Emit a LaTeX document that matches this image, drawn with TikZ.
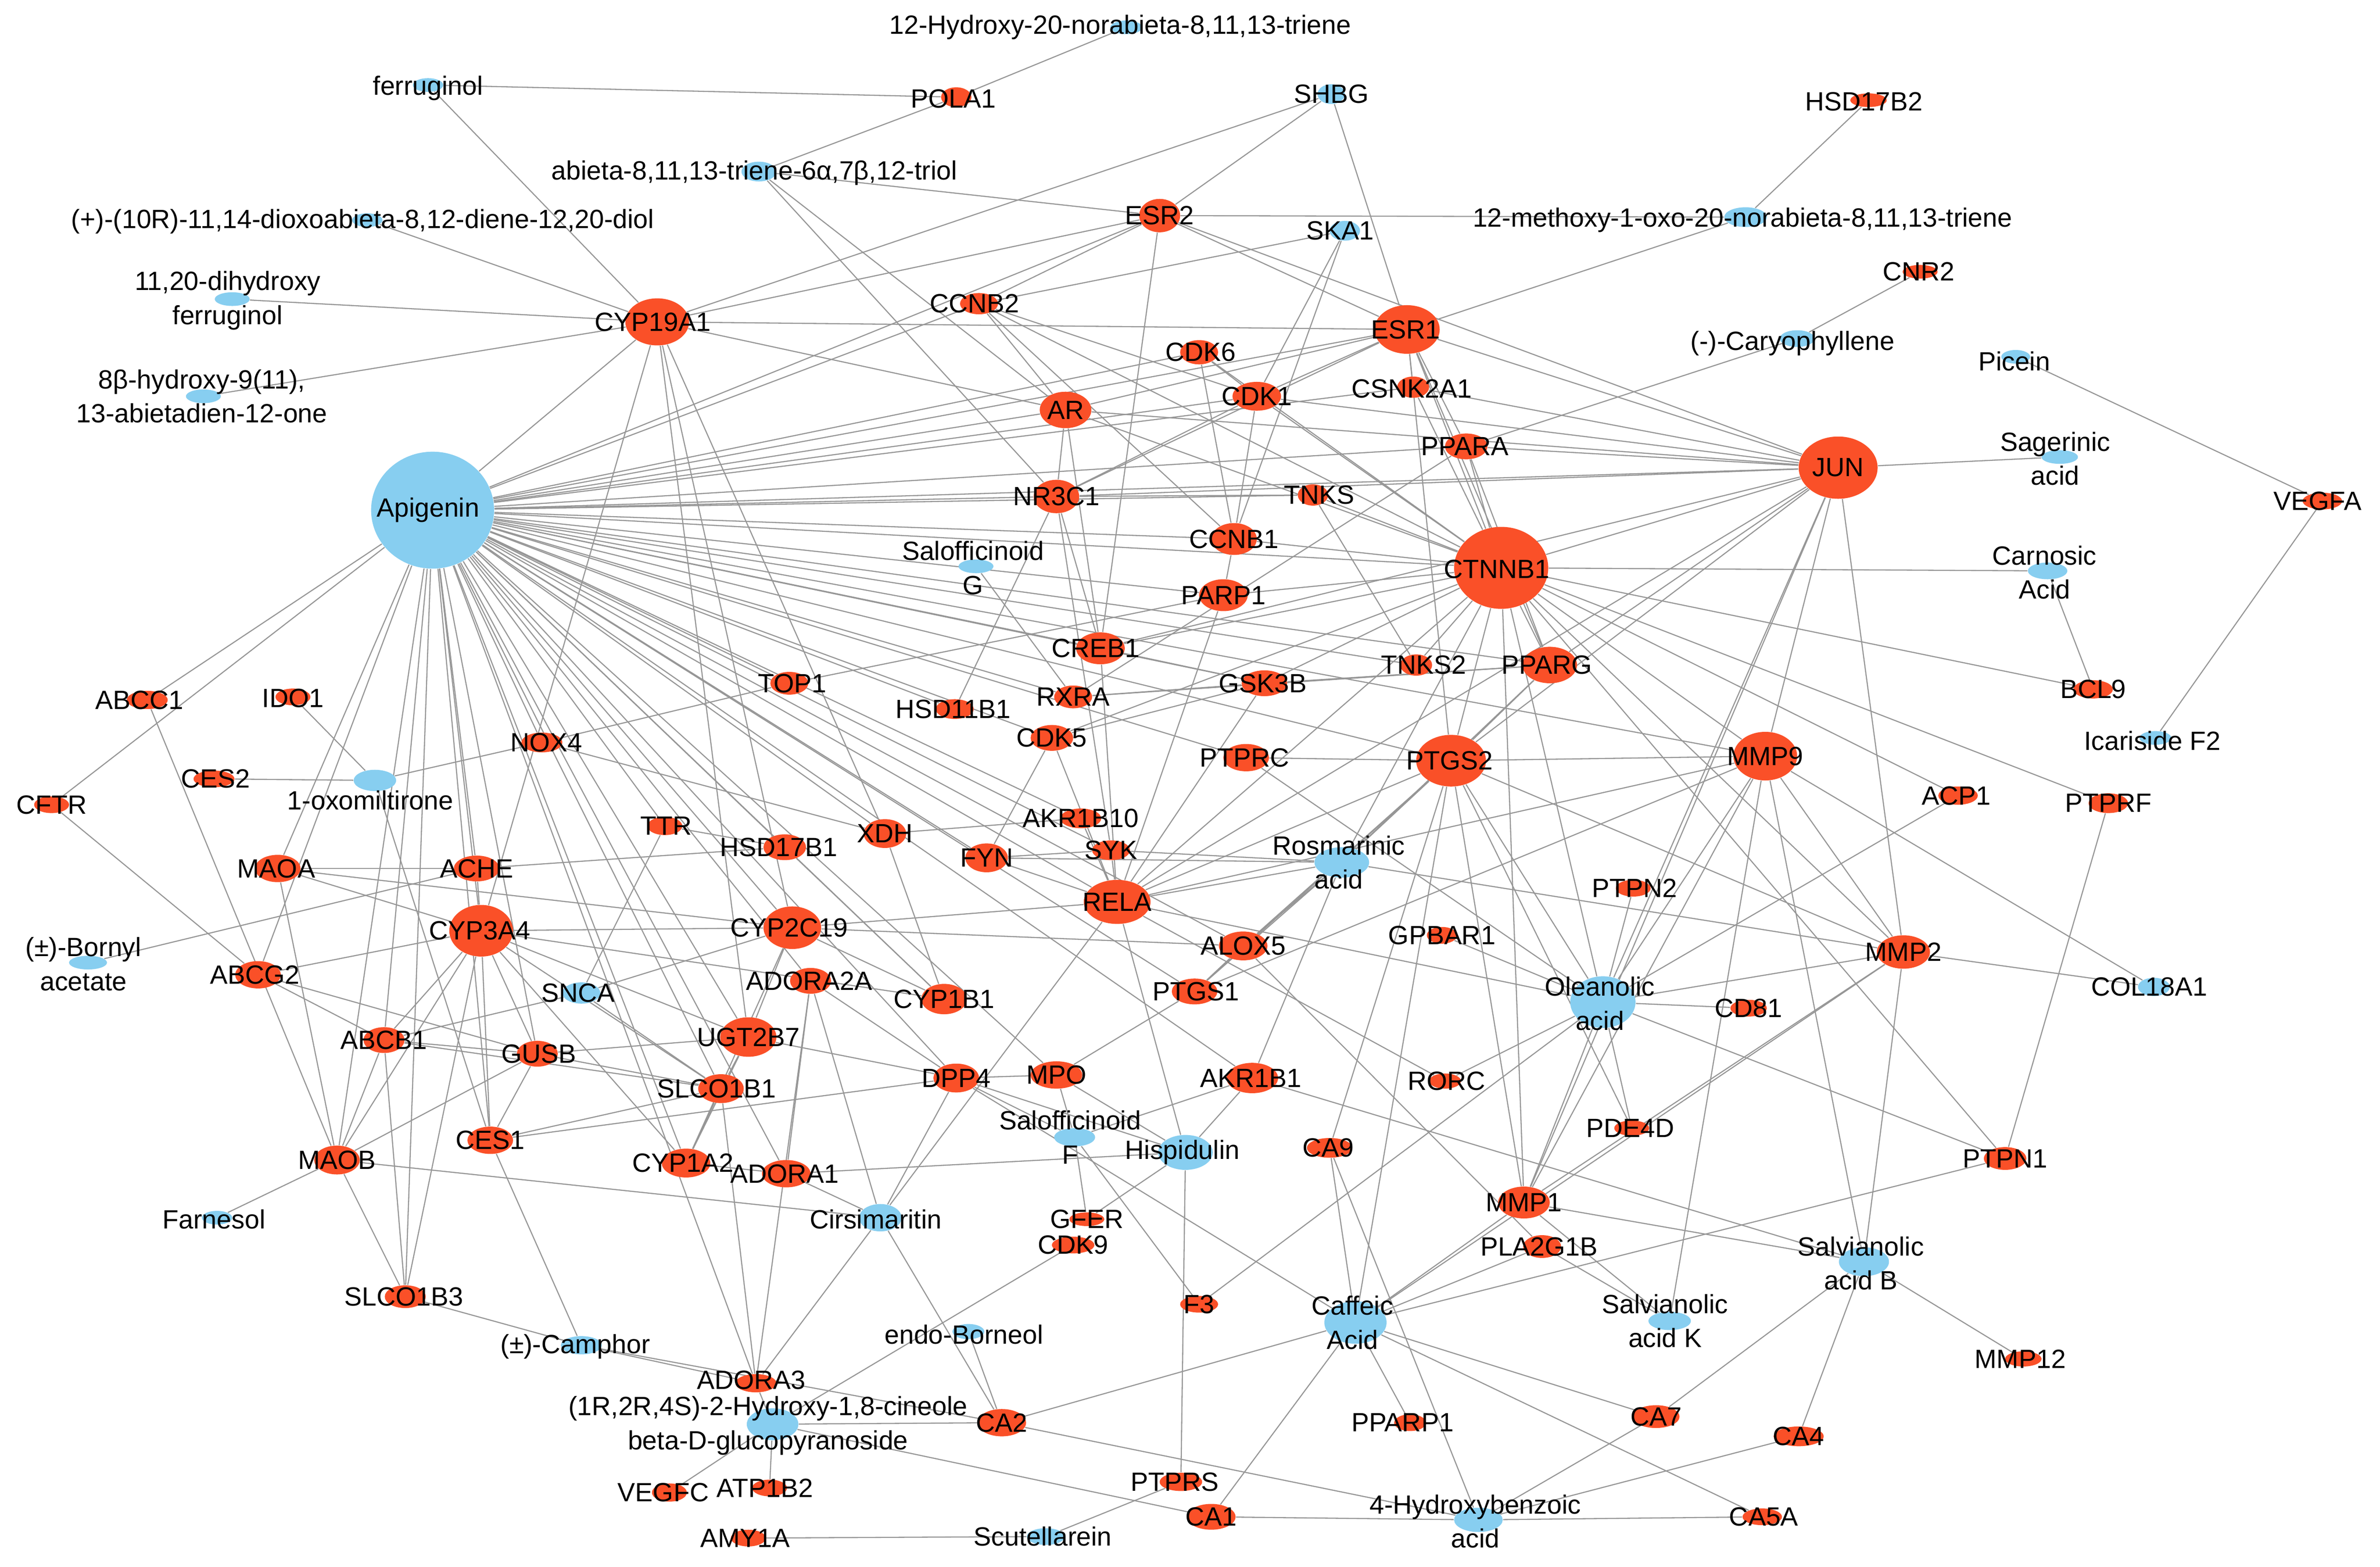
\documentclass[tikz,border=0pt]{standalone}
\usepackage{fontspec}
\setmainfont{Liberation Sans}
\usetikzlibrary{shapes.geometric}
\definecolor{cpdblue}{RGB}{135,206,240}
\definecolor{tgtred}{RGB}{250,80,40}
\definecolor{linkgray}{RGB}{150,150,150}
\pgfdeclarelayer{bg}
\pgfsetlayers{bg,main}
\tikzset{
  sz/.style 2 args={minimum width=#1*0.69pt, minimum height=#2*0.69pt},
  cpd/.style={ellipse, fill=cpdblue, inner sep=0pt},
  tgt/.style={ellipse, fill=tgtred, inner sep=0pt},
  lbl/.style={font=\fontsize{12}{15.5}\selectfont, inner sep=0pt, align=center},
  link/.style={draw=linkgray, line width=0.5pt}
}
\begin{document}
\begin{tikzpicture}[x=0.69pt, y=-0.69pt]
   \useasboundingbox (0,0) rectangle (1568,1032);
   \node[cpd, sz={21}{9}]  (h12)     at ( 742,  18) {};
   \node[cpd, sz={20}{9}]  (ferr)    at ( 282,  56) {};
   \node[cpd, sz={23}{13}] (triol)   at ( 500, 113) {};
   \node[cpd, sz={20}{9}]  (diol)    at ( 242, 145) {};
   \node[cpd, sz={18}{13}] (shbg)    at ( 877,  62) {};
   \node[cpd, sz={20}{13}] (ska)     at ( 886, 152) {};
   \node[cpd, sz={28}{13}] (meth)    at (1150, 143) {};
   \node[cpd, sz={23}{9}]  (dihyd)   at ( 153, 197) {};
   \node[cpd, sz={23}{9}]  (hyd8)    at ( 134, 261) {};
   \node[cpd, sz={23}{11}] (caryo)   at (1184, 223) {};
   \node[cpd, sz={19}{9}]  (picein)  at (1328, 235) {};
   \node[cpd, sz={24}{9}]  (sager)   at (1357, 301) {};
   \node[cpd, sz={81}{77}] (api)     at ( 285, 336) {};
   \node[cpd, sz={23}{9}]  (salg)    at ( 643, 373) {};
   \node[cpd, sz={26}{11}] (carn)    at (1349, 376) {};
   \node[cpd, sz={21}{9}]  (icar)    at (1420, 486) {};
   \node[cpd, sz={28}{14}] (oxo)     at ( 247, 514) {};
   \node[cpd, sz={36}{20}] (rosm)    at ( 884, 568) {};
   \node[cpd, sz={25}{9}]  (bornyl)  at (  58, 634) {};
   \node[cpd, sz={25}{14}] (snca)    at ( 383, 654) {};
   \node[cpd, sz={21}{12}] (col)     at (1419, 650) {};
   \node[cpd, sz={43}{34}] (olea)    at (1056, 660) {};
   \node[cpd, sz={27}{12}] (salf)    at ( 708, 749) {};
   \node[cpd, sz={36}{23}] (hisp)    at ( 781, 759) {};
   \node[cpd, sz={20}{9}]  (farn)    at ( 143, 802) {};
   \node[cpd, sz={28}{18}] (cirs)    at ( 580, 802) {};
   \node[cpd, sz={41}{28}] (caff)    at ( 893, 871) {};
   \node[cpd, sz={33}{19}] (salvb)   at (1228, 831) {};
   \node[cpd, sz={28}{12}] (salvk)   at (1100, 870) {};
   \node[cpd, sz={21}{10}] (born)    at ( 638, 877) {};
   \node[cpd, sz={27}{12}] (camph)   at ( 383, 886) {};
   \node[cpd, sz={34}{21}] (gluc)    at ( 509, 938) {};
   \node[cpd, sz={32}{16}] (hb4)     at ( 974,1001) {};
   \node[cpd, sz={25}{11}] (scut)    at ( 689,1012) {};
   \node[tgt, sz={20}{13}] (pola1)   at ( 630,  64) {};
   \node[tgt, sz={24}{9}]  (hsd17b2) at (1231,  66) {};
   \node[tgt, sz={27}{22}] (esr2)    at ( 764, 142) {};
   \node[tgt, sz={42}{31}] (cyp19a1) at ( 433, 212) {};
   \node[tgt, sz={25}{14}] (ccnb2)   at ( 645, 200) {};
   \node[tgt, sz={43}{32}] (esr1)    at ( 927, 217) {};
   \node[tgt, sz={23}{9}]  (cnr2)    at (1265, 179) {};
   \node[tgt, sz={25}{16}] (cdk6)    at ( 790, 232) {};
   \node[tgt, sz={32}{19}] (cdk1)    at ( 828, 261) {};
   \node[tgt, sz={21}{14}] (csnk)    at ( 931, 255) {};
   \node[tgt, sz={34}{24}] (ar)      at ( 702, 270) {};
   \node[tgt, sz={28}{17}] (ppara)   at ( 966, 294) {};
   \node[tgt, sz={52}{41}] (jun)     at (1211, 308) {};
   \node[tgt, sz={26}{11}] (vegfa)   at (1530, 330) {};
   \node[tgt, sz={30}{22}] (nr3c1)   at ( 696, 327) {};
   \node[tgt, sz={20}{14}] (tnks)    at ( 865, 326) {};
   \node[tgt, sz={30}{21}] (ccnb1)   at ( 813, 355) {};
   \node[tgt, sz={62}{54}] (ctnnb1)  at ( 989, 374) {};
   \node[tgt, sz={32}{21}] (parp1)   at ( 806, 392) {};
   \node[tgt, sz={32}{21}] (creb1)   at ( 725, 427) {};
   \node[tgt, sz={21}{14}] (tnks2)   at ( 933, 438) {};
   \node[tgt, sz={36}{24}] (pparg)   at (1021, 438) {};
   \node[tgt, sz={30}{17}] (gsk3b)   at ( 833, 450) {};
   \node[tgt, sz={25}{15}] (rxra)    at ( 707, 459) {};
   \node[tgt, sz={26}{12}] (bcl9)    at (1379, 454) {};
   \node[tgt, sz={27}{12}] (abcc1)   at (  97, 461) {};
   \node[tgt, sz={23}{11}] (ido1)    at ( 193, 459) {};
   \node[tgt, sz={25}{15}] (top1)    at ( 520, 450) {};
   \node[tgt, sz={25}{13}] (hsd11b1) at ( 629, 467) {};
   \node[tgt, sz={28}{17}] (cdk5)    at ( 693, 486) {};
   \node[tgt, sz={27}{11}] (ces2)    at ( 141, 513) {};
   \node[tgt, sz={27}{13}] (nox4)    at ( 357, 489) {};
   \node[tgt, sz={30}{18}] (ptprc)   at ( 821, 499) {};
   \node[tgt, sz={46}{34}] (ptgs2)   at ( 956, 501) {};
   \node[tgt, sz={42}{32}] (mmp9)    at (1163, 498) {};
   \node[tgt, sz={26}{12}] (acp1)    at (1290, 524) {};
   \node[tgt, sz={26}{13}] (ptprf)   at (1389, 529) {};
   \node[tgt, sz={23}{11}] (cftr)    at (  34, 530) {};
   \node[tgt, sz={23}{12}] (ttr)     at ( 438, 544) {};
   \node[tgt, sz={28}{17}] (hsd17b1) at ( 517, 558) {};
   \node[tgt, sz={28}{19}] (xdh)     at ( 583, 549) {};
   \node[tgt, sz={28}{19}] (fyn)     at ( 650, 565) {};
   \node[tgt, sz={27}{13}] (akr1b10) at ( 712, 539) {};
   \node[tgt, sz={25}{13}] (syk)     at ( 732, 560) {};
   \node[tgt, sz={30}{18}] (maoa)    at ( 183, 572) {};
   \node[tgt, sz={30}{17}] (ache)    at ( 314, 572) {};
   \node[tgt, sz={44}{29}] (rela)    at ( 736, 594) {};
   \node[tgt, sz={42}{34}] (cyp3a4)  at ( 317, 613) {};
   \node[tgt, sz={38}{28}] (cyp2c19) at ( 522, 611) {};
   \node[tgt, sz={23}{11}] (ptpn2)   at (1076, 585) {};
   \node[tgt, sz={20}{11}] (gpbar1)  at ( 950, 616) {};
   \node[tgt, sz={32}{19}] (alox5)   at ( 819, 623) {};
   \node[tgt, sz={30}{18}] (abcg2)   at ( 170, 642) {};
   \node[tgt, sz={27}{17}] (adora2a) at ( 534, 646) {};
   \node[tgt, sz={35}{22}] (mmp2)    at (1254, 627) {};
   \node[tgt, sz={24}{11}] (cd81)    at (1152, 664) {};
   \node[tgt, sz={30}{20}] (cyp1b1)  at ( 622, 658) {};
   \node[tgt, sz={30}{17}] (ptgs1)   at ( 787, 653) {};
   \node[tgt, sz={37}{26}] (ugt2b7)  at ( 493, 683) {};
   \node[tgt, sz={27}{17}] (abcb1)   at ( 253, 685) {};
   \node[tgt, sz={27}{17}] (gusb)    at ( 354, 694) {};
   \node[tgt, sz={30}{19}] (slco1b1) at ( 475, 717) {};
   \node[tgt, sz={30}{19}] (dpp4)    at ( 630, 710) {};
   \node[tgt, sz={34}{18}] (mpo)     at ( 696, 708) {};
   \node[tgt, sz={34}{20}] (akr1b1)  at ( 825, 710) {};
   \node[tgt, sz={21}{10}] (rorc)    at ( 952, 712) {};
   \node[tgt, sz={23}{10}] (pde4d)   at (1075, 743) {};
   \node[tgt, sz={30}{18}] (ces1)    at ( 323, 751) {};
   \node[tgt, sz={32}{19}] (cyp1a2)  at ( 452, 766) {};
   \node[tgt, sz={32}{18}] (adora1)  at ( 518, 773) {};
   \node[tgt, sz={30}{19}] (maob)    at ( 222, 764) {};
   \node[tgt, sz={30}{13}] (ca9)     at ( 876, 756) {};
   \node[tgt, sz={28}{15}] (ptpn1)   at (1321, 763) {};
   \node[tgt, sz={23}{9}]  (gfer)    at ( 716, 803) {};
   \node[tgt, sz={28}{11}] (cdk9)    at ( 707, 820) {};
   \node[tgt, sz={34}{21}] (mmp1)    at (1004, 792) {};
   \node[tgt, sz={25}{15}] (pla2g1b) at (1016, 821) {};
   \node[tgt, sz={27}{15}] (slco1b3) at ( 267, 854) {};
   \node[tgt, sz={25}{11}] (f3)      at ( 790, 859) {};
   \node[tgt, sz={24}{10}] (mmp12)   at (1333, 895) {};
   \node[tgt, sz={27}{12}] (adora3)  at ( 498, 911) {};
   \node[tgt, sz={32}{18}] (ca2)     at ( 660, 937) {};
   \node[tgt, sz={21}{11}] (pparp1)  at ( 929, 937) {};
   \node[tgt, sz={31}{15}] (ca7)     at (1091, 933) {};
   \node[tgt, sz={33}{13}] (ca4)     at (1185, 946) {};
   \node[tgt, sz={23}{12}] (vegfc)   at ( 441, 983) {};
   \node[tgt, sz={23}{11}] (atp1b2)  at ( 507, 980) {};
   \node[tgt, sz={28}{12}] (ptprs)   at ( 778, 976) {};
   \node[tgt, sz={32}{17}] (ca1)     at ( 798, 999) {};
   \node[tgt, sz={26}{11}] (ca5a)    at (1161, 999) {};
   \node[tgt, sz={23}{11}] (amy1a)   at ( 493,1013) {};
   \begin{pgfonlayer}{bg}
   \fill[white] (0,0) rectangle (1568,1032);
   \draw[link] (h12) -- (pola1);
   \draw[link] (ferr) -- (pola1);
   \draw[link] (ferr) -- (cyp19a1);
   \draw[link] (triol) -- (pola1);
   \draw[link] (triol) -- (esr2);
   \draw[link] (triol) -- (ar);
   \draw[link] (triol) -- (nr3c1);
   \draw[link] (diol) -- (cyp19a1);
   \draw[link] (dihyd) -- (cyp19a1);
   \draw[link] (hyd8) -- (cyp19a1);
   \draw[link] (shbg) -- (esr2);
   \draw[link] (shbg) -- (esr1);
   \draw[link] (shbg) -- (cyp19a1);
   \draw[link] (meth) -- (hsd17b2);
   \draw[link] (meth) -- (esr2);
   \draw[link] (meth) -- (esr1);
   \draw[link] (ska) -- (ccnb2);
   \draw[link] (ska) -- (cdk1);
   \draw[link] (ska) -- (ccnb1);
   \draw[link] (caryo) -- (cnr2);
   \draw[link] (caryo) -- (ppara);
   \draw[link] (picein) -- (vegfa);
   \draw[link] (icar) -- (vegfa);
   \draw[link] (sager) -- (jun);
   \draw[link] (carn) -- (ctnnb1);
   \draw[link] (carn) -- (bcl9);
   \draw[link] (salg) -- (rxra);
   \draw[link] (oxo) -- (ido1);
   \draw[link] (oxo) -- (ces2);
   \draw[link] (oxo) -- (nox4);
   \draw[link] (oxo) -- (ces1);
   \draw[link] (bornyl) -- (ache);
   \draw[link] (snca) -- (abcb1);
   \draw[link] (snca) -- (ttr);
   \draw[link] (snca) -- (cyp2c19);
   \draw[link] (snca) -- (slco1b1);
   \draw[link] (col) -- (mmp2);
   \draw[link] (col) -- (mmp9);
   \draw[link] (rosm) -- (fyn);
   \draw[link] (rosm) -- (syk);
   \draw[link] (rosm) -- (ptgs2);
   \draw[link] (rosm) -- (ctnnb1);
   \draw[link] (rosm) -- (alox5);
   \draw[link] (rosm) -- (ptgs1);
   \draw[link] (rosm) -- (mmp2);
   \draw[link] (rosm) -- (pparg);
   \draw[link] (rosm) -- (rela);
   \draw[link] (rosm) -- (akr1b1);
   \draw[link] (olea) -- (cd81);
   \draw[link] (olea) -- (mmp9);
   \draw[link] (olea) -- (mmp2);
   \draw[link] (olea) -- (ptpn1);
   \draw[link] (olea) -- (acp1);
   \draw[link] (olea) -- (ptpn2);
   \draw[link] (olea) -- (jun);
   \draw[link] (olea) -- (ptgs2);
   \draw[link] (olea) -- (ctnnb1);
   \draw[link] (olea) -- (gpbar1);
   \draw[link] (olea) -- (mmp1);
   \draw[link] (olea) -- (pde4d);
   \draw[link] (olea) -- (rorc);
   \draw[link] (olea) -- (f3);
   \draw[link] (olea) -- (ptprc);
   \draw[link] (olea) -- (rela);
   \draw[link] (salf) -- (akr1b1);
   \draw[link] (salf) -- (gfer);
   \draw[link] (salf) -- (mpo);
   \draw[link] (salf) -- (dpp4);
   \draw[link] (salf) -- (f3);
   \draw[link] (hisp) -- (akr1b1);
   \draw[link] (hisp) -- (ptprs);
   \draw[link] (hisp) -- (adora1);
   \draw[link] (hisp) -- (mpo);
   \draw[link] (hisp) -- (rela);
   \draw[link] (hisp) -- (gfer);
   \draw[link] (hisp) -- (dpp4);
   \draw[link] (cirs) -- (adora1);
   \draw[link] (cirs) -- (dpp4);
   \draw[link] (cirs) -- (adora3);
   \draw[link] (cirs) -- (maob);
   \draw[link] (cirs) -- (ca2);
   \draw[link] (cirs) -- (rela);
   \draw[link] (cirs) -- (adora2a);
   \draw[link] (born) -- (ca2);
   \draw[link] (camph) -- (slco1b3);
   \draw[link] (camph) -- (ces1);
   \draw[link] (camph) -- (adora3);
   \draw[link] (camph) -- (ca2);
   \draw[link] (gluc) -- (vegfc);
   \draw[link] (gluc) -- (atp1b2);
   \draw[link] (gluc) -- (ca2);
   \draw[link] (gluc) -- (ca1);
   \draw[link] (gluc) -- (cdk9);
   \draw[link] (gluc) -- (adora3);
   \draw[link] (scut) -- (amy1a);
   \draw[link] (scut) -- (ptprs);
   \draw[link] (caff) -- (ca2);
   \draw[link] (caff) -- (ca1);
   \draw[link] (caff) -- (ca9);
   \draw[link] (caff) -- (mmp1);
   \draw[link] (caff) -- (pla2g1b);
   \draw[link] (caff) -- (ptpn1);
   \draw[link] (caff) -- (pparp1);
   \draw[link] (caff) -- (ca7);
   \draw[link] (caff) -- (ca5a);
   \draw[link] (caff) -- (dpp4);
   \draw[link] (caff) -- (mmp2);
   \draw[link] (caff) -- (ptgs2);
   \draw[link] (salvk) -- (pla2g1b);
   \draw[link] (salvk) -- (mmp1);
   \draw[link] (salvk) -- (mmp9);
   \draw[link] (salvb) -- (mmp9);
   \draw[link] (salvb) -- (mmp2);
   \draw[link] (salvb) -- (mmp12);
   \draw[link] (salvb) -- (ca7);
   \draw[link] (salvb) -- (ca4);
   \draw[link] (salvb) -- (mmp1);
   \draw[link] (salvb) -- (akr1b1);
   \draw[link] (hb4) -- (ca1);
   \draw[link] (hb4) -- (ca5a);
   \draw[link] (hb4) -- (ca4);
   \draw[link] (hb4) -- (ca7);
   \draw[link] (hb4) -- (ca2);
   \draw[link] (hb4) -- (ca9);
   \draw[link] (farn) -- (maob);
   \draw[link] (api) -- (cyp19a1);
   \draw[link] (api) -- (esr2);
   \draw[link] (api) -- (ccnb2);
   \draw[link] (api) -- (cdk6);
   \draw[link] (api) -- (cdk1);
   \draw[link] (api) -- (ar);
   \draw[link] (api) -- (esr1);
   \draw[link] (api) -- (csnk);
   \draw[link] (api) -- (ppara);
   \draw[link] (api) -- (jun);
   \draw[link] (api) -- (nr3c1);
   \draw[link] (api) -- (tnks);
   \draw[link] (api) -- (ccnb1);
   \draw[link] (api) -- (ctnnb1);
   \draw[link] (api) -- (parp1);
   \draw[link] (api) -- (creb1);
   \draw[link] (api) -- (gsk3b);
   \draw[link] (api) -- (tnks2);
   \draw[link] (api) -- (pparg);
   \draw[link] (api) -- (rxra);
   \draw[link] (api) -- (ptgs2);
   \draw[link] (api) -- (mmp9);
   \draw[link] (api) -- (hsd11b1);
   \draw[link] (api) -- (cdk5);
   \draw[link] (api) -- (akr1b10);
   \draw[link] (api) -- (syk);
   \draw[link] (api) -- (fyn);
   \draw[link] (api) -- (rela);
   \draw[link] (api) -- (alox5);
   \draw[link] (api) -- (ptgs1);
   \draw[link] (api) -- (ptprc);
   \draw[link] (api) -- (top1);
   \draw[link] (api) -- (xdh);
   \draw[link] (api) -- (hsd17b1);
   \draw[link] (api) -- (ttr);
   \draw[link] (api) -- (nox4);
   \draw[link] (api) -- (ache);
   \draw[link] (api) -- (cyp3a4);
   \draw[link] (api) -- (cyp2c19);
   \draw[link] (api) -- (ugt2b7);
   \draw[link] (api) -- (cyp1b1);
   \draw[link] (api) -- (adora2a);
   \draw[link] (api) -- (gusb);
   \draw[link] (api) -- (slco1b1);
   \draw[link] (api) -- (cyp1a2);
   \draw[link] (api) -- (adora1);
   \draw[link] (api) -- (adora3);
   \draw[link] (api) -- (abcc1);
   \draw[link] (api) -- (cftr);
   \draw[link] (api) -- (abcg2);
   \draw[link] (api) -- (maoa);
   \draw[link] (api) -- (maob);
   \draw[link] (api) -- (abcb1);
   \draw[link] (api) -- (ces1);
   \draw[link] (api) -- (slco1b3);
   \draw[link] (api) -- (dpp4);
   \draw[link] (api) -- (mpo);
   \draw[link] (api) -- (akr1b1);
   \draw[link] (cyp19a1) -- (esr1);
   \draw[link] (cyp19a1) -- (ar);
   \draw[link] (cyp19a1) -- (esr2);
   \draw[link] (cyp19a1) -- (cyp3a4);
   \draw[link] (cyp19a1) -- (cyp2c19);
   \draw[link] (cyp19a1) -- (xdh);
   \draw[link] (cyp19a1) -- (ugt2b7);
   \draw[link] (esr2) -- (esr1);
   \draw[link] (esr2) -- (ccnb2);
   \draw[link] (esr2) -- (creb1);
   \draw[link] (esr2) -- (jun);
   \draw[link] (esr1) -- (jun);
   \draw[link] (esr1) -- (ctnnb1);
   \draw[link] (esr1) -- (ppara);
   \draw[link] (esr1) -- (csnk);
   \draw[link] (esr1) -- (cdk1);
   \draw[link] (esr1) -- (ar);
   \draw[link] (esr1) -- (pparg);
   \draw[link] (esr1) -- (ptgs2);
   \draw[link] (esr1) -- (nr3c1);
   \draw[link] (ccnb2) -- (cdk1);
   \draw[link] (ccnb2) -- (ccnb1);
   \draw[link] (ccnb2) -- (ar);
   \draw[link] (ccnb2) -- (ctnnb1);
   \draw[link] (cdk6) -- (ccnb1);
   \draw[link] (cdk6) -- (cdk1);
   \draw[link] (cdk6) -- (ctnnb1);
   \draw[link] (cdk1) -- (ccnb1);
   \draw[link] (cdk1) -- (nr3c1);
   \draw[link] (cdk1) -- (ctnnb1);
   \draw[link] (cdk1) -- (jun);
   \draw[link] (ar) -- (nr3c1);
   \draw[link] (ar) -- (ctnnb1);
   \draw[link] (ar) -- (jun);
   \draw[link] (ar) -- (creb1);
   \draw[link] (csnk) -- (ctnnb1);
   \draw[link] (csnk) -- (jun);
   \draw[link] (ppara) -- (pparg);
   \draw[link] (ppara) -- (jun);
   \draw[link] (ppara) -- (ctnnb1);
   \draw[link] (ppara) -- (rxra);
   \draw[link] (nr3c1) -- (tnks);
   \draw[link] (nr3c1) -- (jun);
   \draw[link] (nr3c1) -- (hsd11b1);
   \draw[link] (nr3c1) -- (creb1);
   \draw[link] (nr3c1) -- (syk);
   \draw[link] (tnks) -- (ctnnb1);
   \draw[link] (tnks) -- (tnks2);
   \draw[link] (ccnb1) -- (parp1);
   \draw[link] (ccnb1) -- (ctnnb1);
   \draw[link] (ctnnb1) -- (jun);
   \draw[link] (ctnnb1) -- (gsk3b);
   \draw[link] (ctnnb1) -- (pparg);
   \draw[link] (ctnnb1) -- (ptgs2);
   \draw[link] (ctnnb1) -- (mmp9);
   \draw[link] (ctnnb1) -- (bcl9);
   \draw[link] (ctnnb1) -- (tnks2);
   \draw[link] (ctnnb1) -- (rela);
   \draw[link] (ctnnb1) -- (mmp2);
   \draw[link] (ctnnb1) -- (mmp1);
   \draw[link] (ctnnb1) -- (ptprf);
   \draw[link] (ctnnb1) -- (acp1);
   \draw[link] (ctnnb1) -- (ptpn1);
   \draw[link] (ctnnb1) -- (cdk5);
   \draw[link] (ctnnb1) -- (creb1);
   \draw[link] (ctnnb1) -- (parp1);
   \draw[link] (jun) -- (mmp9);
   \draw[link] (jun) -- (ptgs2);
   \draw[link] (jun) -- (rela);
   \draw[link] (jun) -- (mmp1);
   \draw[link] (jun) -- (pparg);
   \draw[link] (jun) -- (mmp2);
   \draw[link] (jun) -- (creb1);
   \draw[link] (ptgs2) -- (mmp9);
   \draw[link] (ptgs2) -- (ptprc);
   \draw[link] (ptgs2) -- (rela);
   \draw[link] (ptgs2) -- (alox5);
   \draw[link] (ptgs2) -- (ptgs1);
   \draw[link] (ptgs2) -- (mmp1);
   \draw[link] (ptgs2) -- (mmp2);
   \draw[link] (ptgs2) -- (pparg);
   \draw[link] (ptgs2) -- (ca9);
   \draw[link] (ptgs2) -- (pde4d);
   \draw[link] (mmp9) -- (mmp2);
   \draw[link] (mmp9) -- (mmp1);
   \draw[link] (mmp9) -- (rela);
   \draw[link] (mmp9) -- (ptgs1);
   \draw[link] (mmp2) -- (mmp1);
   \draw[link] (ptprf) -- (ptpn1);
   \draw[link] (rela) -- (syk);
   \draw[link] (rela) -- (fyn);
   \draw[link] (rela) -- (creb1);
   \draw[link] (rela) -- (gsk3b);
   \draw[link] (rela) -- (parp1);
   \draw[link] (rela) -- (cdk5);
   \draw[link] (rela) -- (rorc);
   \draw[link] (rela) -- (akr1b10);
   \draw[link] (gsk3b) -- (creb1);
   \draw[link] (gsk3b) -- (cdk5);
   \draw[link] (gsk3b) -- (pparg);
   \draw[link] (rxra) -- (pparg);
   \draw[link] (rxra) -- (gsk3b);
   \draw[link] (top1) -- (parp1);
   \draw[link] (top1) -- (nox4);
   \draw[link] (cdk5) -- (fyn);
   \draw[link] (xdh) -- (akr1b10);
   \draw[link] (xdh) -- (cyp1b1);
   \draw[link] (xdh) -- (nox4);
   \draw[link] (syk) -- (fyn);
   \draw[link] (alox5) -- (ptgs1);
   \draw[link] (alox5) -- (cyp2c19);
   \draw[link] (alox5) -- (pla2g1b);
   \draw[link] (ptgs1) -- (mpo);
   \draw[link] (dpp4) -- (mpo);
   \draw[link] (dpp4) -- (ugt2b7);
   \draw[link] (dpp4) -- (ces1);
   \draw[link] (maoa) -- (ache);
   \draw[link] (maoa) -- (cyp3a4);
   \draw[link] (maoa) -- (maob);
   \draw[link] (maoa) -- (cyp2c19);
   \draw[link] (ache) -- (cyp3a4);
   \draw[link] (ache) -- (hsd17b1);
   \draw[link] (cyp3a4) -- (cyp2c19);
   \draw[link] (cyp3a4) -- (ugt2b7);
   \draw[link] (cyp3a4) -- (abcb1);
   \draw[link] (cyp3a4) -- (abcg2);
   \draw[link] (cyp3a4) -- (cyp1a2);
   \draw[link] (cyp3a4) -- (slco1b1);
   \draw[link] (cyp3a4) -- (slco1b3);
   \draw[link] (cyp3a4) -- (ces1);
   \draw[link] (cyp3a4) -- (gusb);
   \draw[link] (cyp3a4) -- (maob);
   \draw[link] (cyp3a4) -- (cyp1b1);
   \draw[link] (cyp2c19) -- (cyp1a2);
   \draw[link] (cyp2c19) -- (ugt2b7);
   \draw[link] (cyp2c19) -- (cyp1b1);
   \draw[link] (cyp2c19) -- (rela);
   \draw[link] (ugt2b7) -- (gusb);
   \draw[link] (ugt2b7) -- (slco1b1);
   \draw[link] (ugt2b7) -- (cyp1a2);
   \draw[link] (abcb1) -- (abcg2);
   \draw[link] (abcb1) -- (gusb);
   \draw[link] (abcb1) -- (maob);
   \draw[link] (abcb1) -- (slco1b3);
   \draw[link] (abcb1) -- (slco1b1);
   \draw[link] (abcg2) -- (gusb);
   \draw[link] (abcg2) -- (cftr);
   \draw[link] (abcc1) -- (maob);
   \draw[link] (gusb) -- (slco1b1);
   \draw[link] (gusb) -- (ces1);
   \draw[link] (slco1b1) -- (cyp1a2);
   \draw[link] (slco1b1) -- (ces1);
   \draw[link] (slco1b1) -- (adora3);
   \draw[link] (maob) -- (slco1b3);
   \draw[link] (maob) -- (gusb);
   \draw[link] (adora2a) -- (adora1);
   \draw[link] (adora2a) -- (adora3);
   \draw[link] (adora2a) -- (dpp4);
   \draw[link] (adora1) -- (cyp1a2);
   \draw[link] (cyp1b1) -- (hsd17b1);
   \draw[link] (ttr) -- (hsd17b1);
   \end{pgfonlayer}
   \node[lbl] (h12-t)     at ( 738,  18) {12-Hydroxy-20-norabieta-8,11,13-triene};
   \node[lbl] (ferr-t)    at ( 282,  58) {ferruginol};
   \node[lbl] (triol-t)   at ( 497, 114) {abieta-8,11,13-triene-6α,7β,12-triol};
   \node[lbl] (diol-t)    at ( 239, 146) {(+)-(10R)-11,14-dioxoabieta-8,12-diene-12,20-diol};
   \node[lbl] (shbg-t)    at ( 877,  62) {SHBG};
   \node[lbl] (ska-t)     at ( 883, 152) {SKA1};
   \node[lbl] (meth-t)    at (1148, 145) {12-methoxy-1-oxo-20-norabieta-8,11,13-triene};
   \node[lbl] (dihyd-t)   at ( 150, 198) {11,20-dihydroxy\\ferruginol};
   \node[lbl] (hyd8-t)    at ( 133, 261) {8β-hydroxy-9(11),\\13-abietadien-12-one};
   \node[lbl] (caryo-t)   at (1181, 226) {(-)-Caryophyllene};
   \node[lbl] (picein-t)  at (1327, 238) {Picein};
   \node[lbl] (sager-t)   at (1354, 302) {Sagerinic\\acid};
   \node[lbl] (api-t)     at ( 282, 336) {Apigenin};
   \node[lbl] (salg-t)    at ( 641, 374) {Salofficinoid\\G};
   \node[lbl] (carn-t)    at (1347, 377) {Carnosic\\Acid};
   \node[lbl] (icar-t)    at (1418, 488) {Icariside F2};
   \node[lbl] (oxo-t)     at ( 244, 527) {1-oxomiltirone};
   \node[lbl] (rosm-t)    at ( 882, 568) {Rosmarinic\\acid};
   \node[lbl] (bornyl-t)  at (  55, 635) {(±)-Bornyl\\acetate};
   \node[lbl] (snca-t)    at ( 381, 654) {SNCA};
   \node[lbl] (col-t)     at (1416, 650) {COL18A1};
   \node[lbl] (olea-t)    at (1054, 661) {Oleanolic\\acid};
   \node[lbl] (salf-t)    at ( 705, 749) {Salofficinoid\\F};
   \node[lbl] (hisp-t)    at ( 779, 759) {Hispidulin};
   \node[lbl] (farn-t)    at ( 141, 803) {Farnesol};
   \node[lbl] (cirs-t)    at ( 577, 803) {Cirsimaritin};
   \node[lbl] (caff-t)    at ( 891, 871) {Caffeic\\Acid};
   \node[lbl] (salvb-t)   at (1226, 832) {Salvianolic\\acid B};
   \node[lbl] (salvk-t)   at (1097, 870) {Salvianolic\\acid K};
   \node[lbl] (born-t)    at ( 635, 879) {endo-Borneol};
   \node[lbl] (camph-t)   at ( 379, 887) {(±)-Camphor};
   \node[lbl] (gluc-t)    at ( 506, 939) {(1R,2R,4S)-2-Hydroxy-1,8-cineole\\beta-D-glucopyranoside};
   \node[lbl] (hb4-t)     at ( 972,1002) {4-Hydroxybenzoic\\acid};
   \node[lbl] (scut-t)    at ( 687,1012) {Scutellarein};
   \node[lbl] (pola1-t)   at ( 628,  65) {POLA1};
   \node[lbl] (hsd17b2-t) at (1228,  67) {HSD17B2};
   \node[lbl] (esr2-t)    at ( 764, 142) {ESR2};
   \node[lbl] (cyp19a1-t) at ( 430, 212) {CYP19A1};
   \node[lbl] (ccnb2-t)   at ( 642, 200) {CCNB2};
   \node[lbl] (esr1-t)    at ( 926, 217) {ESR1};
   \node[lbl] (cnr2-t)    at (1264, 179) {CNR2};
   \node[lbl] (cdk6-t)    at ( 791, 232) {CDK6};
   \node[lbl] (cdk1-t)    at ( 828, 261) {CDK1};
   \node[lbl] (csnk-t)    at ( 930, 256) {CSNK2A1};
   \node[lbl] (ar-t)      at ( 702, 270) {AR};
   \node[lbl] (ppara-t)   at ( 965, 294) {PPARA};
   \node[lbl] (jun-t)     at (1211, 308) {JUN};
   \node[lbl] (vegfa-t)   at (1527, 330) {VEGFA};
   \node[lbl] (nr3c1-t)   at ( 696, 327) {NR3C1};
   \node[lbl] (tnks-t)    at ( 869, 326) {TNKS};
   \node[lbl] (ccnb1-t)   at ( 813, 355) {CCNB1};
   \node[lbl] (ctnnb1-t)  at ( 986, 375) {CTNNB1};
   \node[lbl] (parp1-t)   at ( 806, 392) {PARP1};
   \node[lbl] (creb1-t)   at ( 722, 427) {CREB1};
   \node[lbl] (tnks2-t)   at ( 938, 438) {TNKS2};
   \node[lbl] (pparg-t)   at (1019, 438) {PPARG};
   \node[lbl] (gsk3b-t)   at ( 832, 450) {GSK3B};
   \node[lbl] (rxra-t)    at ( 707, 459) {RXRA};
   \node[lbl] (bcl9-t)    at (1379, 454) {BCL9};
   \node[lbl] (abcc1-t)   at (  92, 461) {ABCC1};
   \node[lbl] (ido1-t)    at ( 193, 460) {IDO1};
   \node[lbl] (top1-t)    at ( 522, 450) {TOP1};
   \node[lbl] (hsd11b1-t) at ( 628, 467) {HSD11B1};
   \node[lbl] (cdk5-t)    at ( 693, 486) {CDK5};
   \node[lbl] (ces2-t)    at ( 142, 513) {CES2};
   \node[lbl] (nox4-t)    at ( 360, 489) {NOX4};
   \node[lbl] (ptprc-t)   at ( 820, 499) {PTPRC};
   \node[lbl] (ptgs2-t)   at ( 955, 501) {PTGS2};
   \node[lbl] (mmp9-t)    at (1163, 498) {MMP9};
   \node[lbl] (acp1-t)    at (1289, 524) {ACP1};
   \node[lbl] (ptprf-t)   at (1389, 529) {PTPRF};
   \node[lbl] (cftr-t)    at (  34, 530) {CFTR};
   \node[lbl] (ttr-t)     at ( 439, 544) {TTR};
   \node[lbl] (hsd17b1-t) at ( 513, 558) {HSD17B1};
   \node[lbl] (xdh-t)     at ( 583, 549) {XDH};
   \node[lbl] (fyn-t)     at ( 650, 565) {FYN};
   \node[lbl] (akr1b10-t) at ( 712, 539) {AKR1B10};
   \node[lbl] (syk-t)     at ( 732, 560) {SYK};
   \node[lbl] (maoa-t)    at ( 182, 572) {MAOA};
   \node[lbl] (ache-t)    at ( 314, 572) {ACHE};
   \node[lbl] (rela-t)    at ( 736, 594) {RELA};
   \node[lbl] (cyp3a4-t)  at ( 316, 613) {CYP3A4};
   \node[lbl] (cyp2c19-t) at ( 520, 611) {CYP2C19};
   \node[lbl] (ptpn2-t)   at (1077, 585) {PTPN2};
   \node[lbl] (gpbar1-t)  at ( 950, 616) {GPBAR1};
   \node[lbl] (alox5-t)   at ( 819, 623) {ALOX5};
   \node[lbl] (abcg2-t)   at ( 168, 642) {ABCG2};
   \node[lbl] (adora2a-t) at ( 533, 646) {ADORA2A};
   \node[lbl] (mmp2-t)    at (1254, 627) {MMP2};
   \node[lbl] (cd81-t)    at (1152, 664) {CD81};
   \node[lbl] (cyp1b1-t)  at ( 622, 658) {CYP1B1};
   \node[lbl] (ptgs1-t)   at ( 788, 653) {PTGS1};
   \node[lbl] (ugt2b7-t)  at ( 493, 683) {UGT2B7};
   \node[lbl] (abcb1-t)   at ( 253, 685) {ABCB1};
   \node[lbl] (gusb-t)    at ( 355, 694) {GUSB};
   \node[lbl] (slco1b1-t) at ( 472, 717) {SLCO1B1};
   \node[lbl] (dpp4-t)    at ( 630, 710) {DPP4};
   \node[lbl] (mpo-t)     at ( 696, 708) {MPO};
   \node[lbl] (akr1b1-t)  at ( 824, 710) {AKR1B1};
   \node[lbl] (rorc-t)    at ( 953, 712) {RORC};
   \node[lbl] (pde4d-t)   at (1074, 743) {PDE4D};
   \node[lbl] (ces1-t)    at ( 323, 751) {CES1};
   \node[lbl] (cyp1a2-t)  at ( 450, 766) {CYP1A2};
   \node[lbl] (adora1-t)  at ( 517, 773) {ADORA1};
   \node[lbl] (maob-t)    at ( 222, 764) {MAOB};
   \node[lbl] (ca9-t)     at ( 875, 756) {CA9};
   \node[lbl] (ptpn1-t)   at (1321, 763) {PTPN1};
   \node[lbl] (gfer-t)    at ( 716, 803) {GFER};
   \node[lbl] (cdk9-t)    at ( 707, 820) {CDK9};
   \node[lbl] (mmp1-t)    at (1004, 792) {MMP1};
   \node[lbl] (pla2g1b-t) at (1014, 821) {PLA2G1B};
   \node[lbl] (slco1b3-t) at ( 266, 854) {SLCO1B3};
   \node[lbl] (f3-t)      at ( 790, 859) {F3};
   \node[lbl] (mmp12-t)   at (1331, 895) {MMP12};
   \node[lbl] (adora3-t)  at ( 495, 909) {ADORA3};
   \node[lbl] (ca2-t)     at ( 660, 937) {CA2};
   \node[lbl] (pparp1-t)  at ( 924, 937) {PPARP1};
   \node[lbl] (ca7-t)     at (1091, 933) {CA7};
   \node[lbl] (ca4-t)     at (1185, 946) {CA4};
   \node[lbl] (vegfc-t)   at ( 437, 983) {VEGFC};
   \node[lbl] (atp1b2-t)  at ( 504, 980) {ATP1B2};
   \node[lbl] (ptprs-t)   at ( 774, 976) {PTPRS};
   \node[lbl] (ca1-t)     at ( 798, 999) {CA1};
   \node[lbl] (ca5a-t)    at (1162, 999) {CA5A};
   \node[lbl] (amy1a-t)   at ( 491,1013) {AMY1A};
\end{tikzpicture}
\end{document}
